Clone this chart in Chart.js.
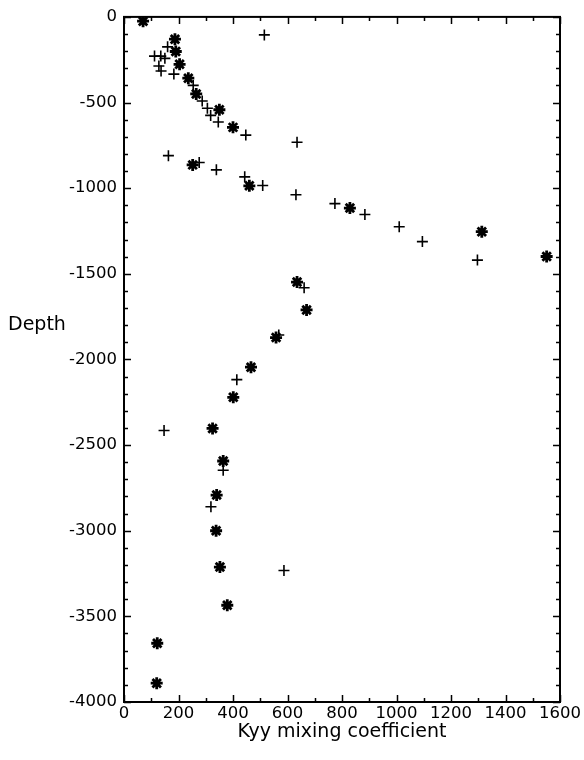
<!DOCTYPE html>
<html><head><meta charset="utf-8">
<script src="https://cdn.jsdelivr.net/npm/chart.js@4.4.1/dist/chart.umd.min.js"></script>
<style>html,body{margin:0;padding:0;background:#fff}#wrap{width:584px;height:760px;position:relative}</style>
</head><body><div id="wrap"><canvas id="c" width="584" height="760"></canvas></div>
<script>
// Series "+" (cross markers)
const plusX = [515,160,112,135,150,128,136,183,254,287,306,318,346,447,635,163,276,339,443,509,631,774,884,1010,1095,1297,661,568,414,147,364,319,587];
const plusY = [-105,-175,-229,-229,-242,-287,-316,-334,-400,-491,-533,-575,-614,-690,-732,-810,-850,-893,-934,-984,-1038,-1090,-1154,-1225,-1312,-1420,-1581,-1857,-2118,-2415,-2647,-2860,-3232];
// Series "*" (asterisk markers)
const starX = [70,187,190,204,236,265,350,400,252,460,829,1313,1551,635,670,558,466,401,325,364,340,338,352,379,122,120];
const starY = [-25,-130,-202,-277,-358,-450,-542,-645,-864,-986,-1116,-1254,-1399,-1548,-1711,-1872,-2045,-2221,-2403,-2593,-2792,-3000,-3212,-3435,-3657,-3890];
const xTickStep = 200, xMinorStep = 100, xMin = 0, xMax = 1600;
const yTickStep = 500, yMinorStep = 100, yMin = -4000, yMax = 0;
const xTitle = 'Kyy mixing coefficient';
const yTitle = 'Depth';

const FONT = "'DejaVu Sans', 'Liberation Sans', Arial, sans-serif";
const plusData = plusX.map((x,i)=>({x, y: plusY[i]}));
const starData = starX.map((x,i)=>({x, y: starY[i]}));

const frame = {
  id: 'frame',
  afterDatasetsDraw(chart) {
    const {ctx, chartArea: a, scales: {x, y}} = chart;
    ctx.save();
    ctx.strokeStyle = '#000';
    ctx.lineWidth = 1.5;
    ctx.beginPath();
    for (let v = xMin; v <= xMax; v += xMinorStep) {
      const px = Math.round(x.getPixelForValue(v)) + 0.5;
      const len = (v % xTickStep === 0) ? 7 : 4;
      ctx.moveTo(px, a.bottom); ctx.lineTo(px, a.bottom - len);
      ctx.moveTo(px, a.top); ctx.lineTo(px, a.top + len);
    }
    for (let v = yMin; v <= yMax; v += yMinorStep) {
      const py = Math.round(y.getPixelForValue(v)) + 0.5;
      const len = (v % yTickStep === 0) ? 7 : 4;
      ctx.moveTo(a.left, py); ctx.lineTo(a.left + len, py);
      ctx.moveTo(a.right, py); ctx.lineTo(a.right - len, py);
    }
    ctx.stroke();
    ctx.lineWidth = 2;
    ctx.strokeRect(a.left, a.top, a.right - a.left, a.bottom - a.top);
    ctx.fillStyle = '#000';
    ctx.font = '19px ' + FONT;
    ctx.textAlign = 'left';
    ctx.textBaseline = 'alphabetic';
    ctx.fillText(yTitle, 8, 330);
    ctx.restore();
  }
};

new Chart(document.getElementById('c'), {
  type: 'scatter',
  data: {
    datasets: [
      {label: '+', data: plusData, pointStyle: 'cross', pointRadius: 5.5, pointBorderWidth: 1.6,
       borderColor: '#000', backgroundColor: '#000', pointHoverRadius: 5.5},
      {label: '*', data: starData, pointStyle: 'star', pointRadius: 6, pointBorderWidth: 2.8,
       borderColor: '#000', backgroundColor: '#000', pointHoverRadius: 6}
    ]
  },
  options: {
    responsive: false,
    animation: false,
    devicePixelRatio: 1,
    layout: {padding: {top: 14, right: 24, left: 0, bottom: 0}},
    plugins: {legend: {display: false}, tooltip: {enabled: false}},
    events: [],
    scales: {
      x: {
        type: 'linear', min: xMin, max: xMax,
        ticks: {stepSize: xTickStep, color: '#000', font: {family: FONT, size: 16.5}, padding: 2, maxRotation: 0, autoSkip: false,
                callback: v => String(v)},
        grid: {display: false, drawTicks: false},
        border: {display: false},
        title: {display: true, text: xTitle, color: '#000', font: {family: FONT, size: 19}, padding: {top: 0, bottom: 17}},
        afterFit(s) { s.height = 58; }
      },
      y: {
        type: 'linear', min: yMin, max: yMax,
        ticks: {stepSize: yTickStep, color: '#000', font: {family: FONT, size: 16.5}, padding: 7, autoSkip: false,
                callback: v => String(v)},
        grid: {display: false, drawTicks: false},
        border: {display: false},
        afterFit(s) { s.width = 124; }
      }
    }
  },
  plugins: [frame]
});
</script></body></html>
